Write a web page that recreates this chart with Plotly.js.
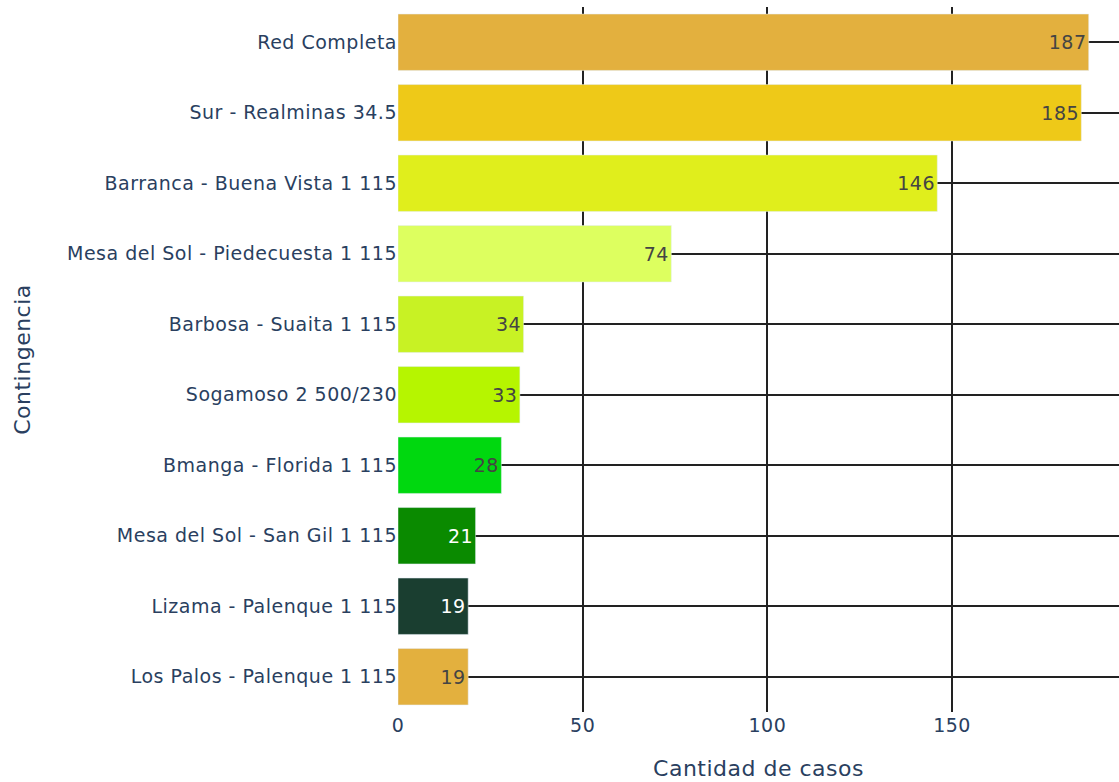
<!DOCTYPE html>
<html>
<head>
<meta charset="utf-8">
<script src="https://cdn.plot.ly/plotly-3.0.1.min.js"></script>
<style>
html,body{margin:0;padding:0;background:#fff;}
#chart{width:1119px;height:782px;}
#chart .main-svg text{letter-spacing:0.5px;}
</style>
</head>
<body>
<div id="chart"></div>
<script>
const categories = [
  "Red Completa",
  "Sur - Realminas 34.5",
  "Barranca - Buena Vista 1 115",
  "Mesa del Sol - Piedecuesta 1 115",
  "Barbosa - Suaita 1 115",
  "Sogamoso 2 500/230",
  "Bmanga - Florida 1 115",
  "Mesa del Sol - San Gil 1 115",
  "Lizama - Palenque 1 115",
  "Los Palos - Palenque 1 115"
];
const values = [187, 185, 146, 74, 34, 33, 28, 21, 19, 19];
const barColors = ["#E3B03E", "#EEC918", "#E0EE1C", "#DDFF5F", "#C8F224", "#B6F500", "#00D80F", "#0A8A00", "#1A3E30", "#E3B03E"];

const trace = {
  type: "bar",
  orientation: "h",
  x: values,
  y: categories,
  text: values.map(String),
  textposition: "inside",
  insidetextanchor: "end",
  textfont: {size: 19, family: "DejaVu Sans"},
  marker: {color: barColors, line: {color: "#E5ECF6", width: 0.5}},
  hoverinfo: "x+y"
};

const layout = {
  width: 1119,
  height: 782,
  margin: {l: 398, r: 0, t: 7, b: 70, autoexpand: false},
  paper_bgcolor: "white",
  plot_bgcolor: "white",
  font: {family: "DejaVu Sans", color: "#2a3f5f", size: 19},
  bargap: 0.2,
  showlegend: false,
  xaxis: {
    range: [0, 195.2],
    dtick: 50,
    showgrid: true,
    gridcolor: "#222",
    gridwidth: 1.5,
    zeroline: false,
    showline: false,
    ticks: "",
    tickfont: {size: 19},
    title: {text: "Cantidad de casos", font: {size: 22}, standoff: 25},
    automargin: false
  },
  yaxis: {
    autorange: "reversed",
    showgrid: true,
    gridcolor: "#222",
    gridwidth: 1.5,
    zeroline: false,
    ticks: "",
    tickfont: {size: 19},
    title: {text: "Contingencia", font: {size: 22}, standoff: 46},
    automargin: false
  }
};

Plotly.newPlot("chart", [trace], layout, {displayModeBar: false});
</script>
</body>
</html>
